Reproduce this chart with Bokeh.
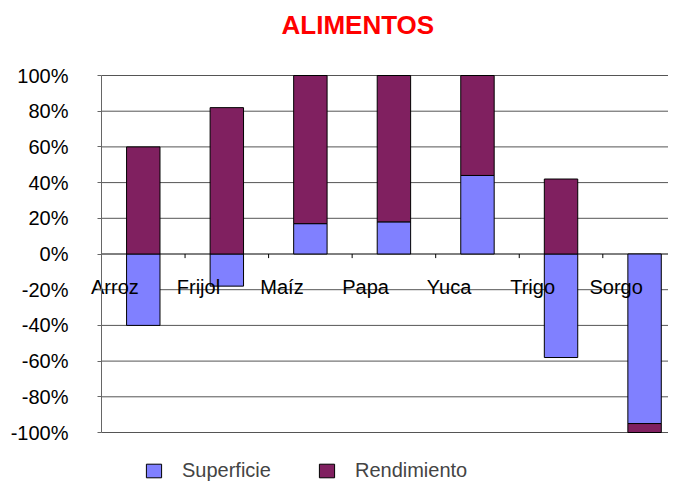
from bokeh.plotting import figure
from bokeh.models import (ColumnDataSource, Range1d, FixedTicker, PrintfTickFormatter,
                          Legend, LegendItem, Title)
from bokeh.core.properties import value
from bokeh.embed import file_html
from bokeh.resources import INLINE

categories = ["Arroz", "Frijol", "Maíz", "Papa", "Yuca", "Trigo", "Sorgo"]
superficie = [-40, -18, 17, 18, 44, -58, -95]
rendimiento = [60, 82, 83, 82, 56, 42, -5]
y_ticks = [-100, -80, -60, -40, -20, 0, 20, 40, 60, 80, 100]

FONT = "Liberation Sans"
C_SUP = "#8080FF"
C_REN = "#802060"

n = len(categories)
xs = list(range(n))
# stacking: positives and negatives stack separately
s_bottom, s_top, r_bottom, r_top = [], [], [], []
for s, r in zip(superficie, rendimiento):
    s_bottom.append(0)
    s_top.append(s)
    pos = max(s, 0)
    neg = min(s, 0)
    if r >= 0:
        r_bottom.append(pos)
        r_top.append(pos + r)
    else:
        r_bottom.append(neg)
        r_top.append(neg + r)

src = ColumnDataSource(dict(x=xs, sb=s_bottom, st=s_top, rb=r_bottom, rt=r_top,
                            lx=[x - 0.34 for x in xs], ly=[-18.5] * n,
                            label=categories))

W, H = 668, 482
TOP = 66          # frame top (pixels)
TOP_GRID = 75     # where the 100% line sits
px_per_cat = 83.55
px_per_pct = 1.785
x_start = -0.5 - 101 / px_per_cat
x_end = -0.5 + (W - 101) / px_per_cat
y_end = y_ticks[-1] + (TOP_GRID - TOP) / px_per_pct
y_start = y_end - (H - TOP) / px_per_pct

p = figure(width=W, height=H, output_backend="svg", toolbar_location=None,
           x_range=Range1d(x_start, x_end), y_range=Range1d(y_start, y_end),
           min_border_left=0, min_border_right=0, min_border_top=TOP, min_border_bottom=0)
p.outline_line_color = None
p.background_fill_color = "white"
p.border_fill_color = "white"

p.title.text = "ALIMENTOS"
p.title.text_font = FONT
p.title.text_font_size = "26px"
p.title.text_font_style = "bold"
p.title.text_color = "#FF0000"
p.title.align = "left"
p.title.offset = 281
p.add_layout(Title(text=" ", text_font_size="9px"), "above")

p.xaxis.visible = False
p.xgrid.visible = False
p.ygrid.visible = False

yax = p.yaxis[0]
yax.fixed_location = -0.5
yax.bounds = (y_ticks[0], y_ticks[-1])
yax.ticker = FixedTicker(ticks=y_ticks)
yax.formatter = PrintfTickFormatter(format="%d%%")
yax.major_label_text_font = FONT
yax.major_label_text_font_size = "20px"
yax.major_label_text_color = "black"
yax.major_label_standoff = 29
yax.axis_line_color = "#666666"
yax.major_tick_line_color = "#666666"
yax.major_tick_out = 4
yax.major_tick_in = 0
yax.minor_tick_line_color = None

# horizontal gridlines starting at the value axis
p.segment(x0=[-0.5] * len(y_ticks), x1=[n] * len(y_ticks), y0=y_ticks, y1=y_ticks,
          line_color=["black" if t == 0 else "#555555" for t in y_ticks], line_width=1)

r1 = p.vbar(x="x", bottom="sb", top="st", width=0.40, source=src,
            fill_color=C_SUP, line_color="black", line_width=1)
r2 = p.vbar(x="x", bottom="rb", top="rt", width=0.40, source=src,
            fill_color=C_REN, line_color="black", line_width=1)

# category tick marks on the zero line
tx = [x + 0.5 for x in xs[:-1]]
p.segment(x0=tx, x1=tx, y0=[0] * len(tx), y1=[-2.3] * len(tx), line_color="black", line_width=1)

p.text(x="lx", y="ly", text="label", source=src, text_font=value(FONT),
       text_font_size="20px", text_align="center", text_baseline="middle", text_color="black")

legend = Legend(items=[LegendItem(label="Superficie", renderers=[r1]),
                       LegendItem(label="Rendimiento", renderers=[r2])],
                orientation="horizontal", location=(144, 0),
                glyph_width=19, glyph_height=17, label_height=17,
                label_standoff=19, spacing=46, padding=0, margin=0,
                label_text_font=FONT, label_text_font_size="20px",
                border_line_color=None, background_fill_alpha=0)
p.add_layout(legend)

open("out.html", "w").write(file_html(p, INLINE))
